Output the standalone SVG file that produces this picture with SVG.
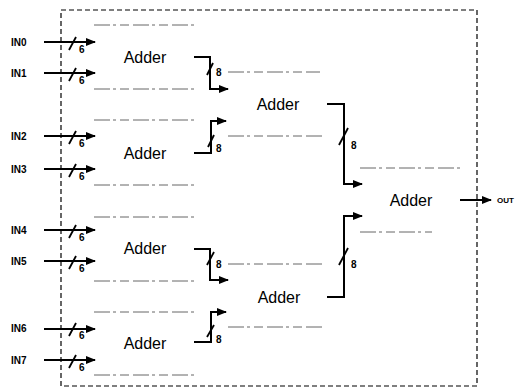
<svg xmlns="http://www.w3.org/2000/svg" width="520" height="392" viewBox="0 0 520 392">
<style>
.frame{fill:none;stroke:#000;stroke-width:1.2;stroke-dasharray:5 3}
.edge{fill:none;stroke:#555;stroke-width:0.9;stroke-dasharray:16 3 3 4 9 4}
.lbl{font-family:"Liberation Sans",Arial,sans-serif;font-size:16px;fill:#000;text-anchor:middle;dominant-baseline:central}
.pin{font-family:"Liberation Sans",Arial,sans-serif;font-size:10px;font-weight:bold;fill:#000;dominant-baseline:central}
.w{font-family:"Liberation Sans",Arial,sans-serif;font-size:10px;font-weight:bold;fill:#000;dominant-baseline:central}
.wire{fill:none;stroke:#000;stroke-width:2;marker-end:url(#ah)}
.sl{stroke:#000;stroke-width:1.8}
</style>
<defs>
<marker id="ah" viewBox="0 0 10 8" refX="9" refY="4" markerWidth="5" markerHeight="4" orient="auto" markerUnits="strokeWidth">
<path d="M0,0 L10,4 L0,8 z" fill="#000"/>
</marker>
</defs>
<rect class="frame" x="61" y="10" width="416" height="376"/>

<g id="add1">
<line class="edge" x1="94" y1="25" x2="195" y2="25"/>
<line class="edge" x1="94" y1="89" x2="195" y2="89"/>
<text class="lbl" x="145" y="57">Adder</text>
</g>
<g id="add2">
<line class="edge" x1="94" y1="120" x2="195" y2="120"/>
<line class="edge" x1="94" y1="185" x2="195" y2="185"/>
<text class="lbl" x="145" y="153">Adder</text>
</g>
<g id="add3">
<line class="edge" x1="94" y1="217" x2="195" y2="217"/>
<line class="edge" x1="94" y1="281" x2="195" y2="281"/>
<text class="lbl" x="145" y="248">Adder</text>
</g>
<g id="add4">
<line class="edge" x1="94" y1="312" x2="195" y2="312"/>
<line class="edge" x1="94" y1="375" x2="195" y2="375"/>
<text class="lbl" x="145" y="343">Adder</text>
</g>
<g id="add5">
<line class="edge" x1="228" y1="72" x2="320" y2="72"/>
<line class="edge" x1="228" y1="136" x2="325" y2="136"/>
<text class="lbl" x="278" y="104">Adder</text>
</g>
<g id="add6">
<line class="edge" x1="228" y1="264" x2="325" y2="264"/>
<line class="edge" x1="228" y1="327" x2="325" y2="327"/>
<text class="lbl" x="279" y="297">Adder</text>
</g>
<g id="add7">
<line class="edge" x1="360" y1="168" x2="460" y2="168"/>
<line class="edge" x1="360" y1="232" x2="432" y2="232"/>
<text class="lbl" x="411" y="200">Adder</text>
</g>

<g id="pins">
<text class="pin" x="11" y="42">IN0</text>
<text class="pin" x="11" y="73">IN1</text>
<text class="pin" x="11" y="136">IN2</text>
<text class="pin" x="11" y="169">IN3</text>
<text class="pin" x="11" y="230">IN4</text>
<text class="pin" x="11" y="261">IN5</text>
<text class="pin" x="11" y="328">IN6</text>
<text class="pin" x="11" y="360">IN7</text>
<text class="w" x="497" y="200" style="font-size:8px">OUT</text>
</g>

<g id="connectors">
<path class="wire" d="M44,42 H95"/>
<path class="wire" d="M44,73 H95"/>
<path class="wire" d="M44,136 H95"/>
<path class="wire" d="M44,169 H95"/>
<path class="wire" d="M44,230 H95"/>
<path class="wire" d="M44,261 H95"/>
<path class="wire" d="M44,329 H95"/>
<path class="wire" d="M44,360 H95"/>
<path class="wire" d="M194,57 H210 V89 H228"/>
<path class="wire" d="M194,153 H211 V121 H226"/>
<path class="wire" d="M194,249 H210 V280 H228"/>
<path class="wire" d="M194,342 H211 V312 H226"/>
<path class="wire" d="M327,104 H344 V184 H362"/>
<path class="wire" d="M327,297 H344 V216 H362"/>
<path class="wire" d="M460,200 H491"/>
</g>

<g id="buswidths">
<line class="sl" x1="69" y1="50" x2="76" y2="37"/><text class="w" x="79" y="49">6</text>
<line class="sl" x1="69" y1="81" x2="76" y2="68"/><text class="w" x="79" y="80">6</text>
<line class="sl" x1="69" y1="144" x2="76" y2="131"/><text class="w" x="79" y="143">6</text>
<line class="sl" x1="69" y1="177" x2="76" y2="164"/><text class="w" x="79" y="176">6</text>
<line class="sl" x1="69" y1="238" x2="76" y2="225"/><text class="w" x="79" y="237">6</text>
<line class="sl" x1="69" y1="269" x2="76" y2="256"/><text class="w" x="79" y="268">6</text>
<line class="sl" x1="69" y1="336" x2="76" y2="323"/><text class="w" x="79" y="335">6</text>
<line class="sl" x1="69" y1="368" x2="76" y2="355"/><text class="w" x="79" y="367">6</text>
<line class="sl" x1="207" y1="75" x2="213" y2="63"/><text class="w" x="216" y="72">8</text>
<line class="sl" x1="208" y1="147" x2="214" y2="135"/><text class="w" x="216" y="148">8</text>
<line class="sl" x1="207" y1="265" x2="214" y2="252"/><text class="w" x="216" y="264">8</text>
<line class="sl" x1="207" y1="337" x2="214" y2="325"/><text class="w" x="216" y="339">8</text>
<line class="sl" x1="339" y1="145" x2="348" y2="128"/><text class="w" x="351" y="145">8</text>
<line class="sl" x1="339" y1="265" x2="348" y2="248"/><text class="w" x="351" y="264">8</text>
</g>
</svg>
